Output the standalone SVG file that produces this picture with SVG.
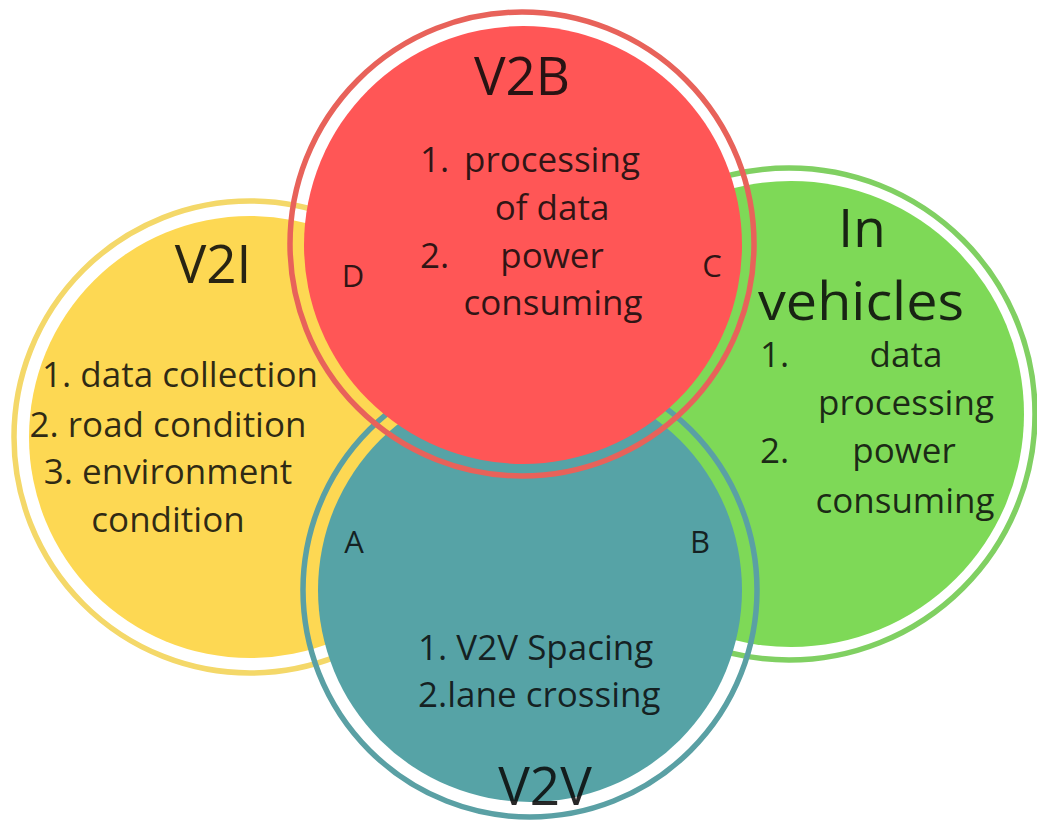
<svg xmlns="http://www.w3.org/2000/svg" width="1037" height="823" viewBox="0 0 1037 823">
  <style>
    .ring { fill: none; stroke-width: 5.5; }
    .title { font-family: "Open Sans", "Liberation Sans", sans-serif; font-size: 53px; fill: #0a0a0a; fill-opacity: 0.88; }
    .body { font-family: "Open Sans", "Liberation Sans", sans-serif; font-size: 35px; fill: #0a0a0a; fill-opacity: 0.85; }
    .mark { font-family: "Open Sans", "Liberation Sans", sans-serif; font-size: 31px; fill: #0a0a0a; fill-opacity: 0.85; }
    .mid { text-anchor: middle; }
  </style>
  <rect width="1037" height="823" fill="#ffffff"/>

  <!-- V2I -->
  <g id="v2i">
    <circle class="ring" cx="250" cy="437" r="236" stroke="#F4D869"/>
    <circle cx="250" cy="437" r="221" fill="#FDD853"/>
    <text class="title mid" x="213" y="283">V2I</text>
    <text class="body mid" x="180" y="387">1. data collection</text>
    <text class="body mid" x="168" y="437">2. road condition</text>
    <text class="body mid" x="168" y="484">3. environment</text>
    <text class="body mid" x="168" y="532">condition</text>
  </g>

  <!-- In vehicles -->
  <g id="in-vehicles">
    <circle class="ring" cx="789" cy="414" r="246" stroke="#80D062"/>
    <circle cx="791" cy="414" r="233" fill="#7ED957"/>
    <text class="title mid" x="862" y="247">In</text>
    <text class="title mid" x="861" y="320" textLength="206" lengthAdjust="spacingAndGlyphs">vehicles</text>
    <text class="body" x="760" y="367">1.</text>
    <text class="body mid" x="906" y="367">data</text>
    <text class="body mid" x="906" y="415">processing</text>
    <text class="body" x="760" y="463">2.</text>
    <text class="body mid" x="904" y="463">power</text>
    <text class="body mid" x="905" y="513">consuming</text>
  </g>

  <!-- V2V -->
  <g id="v2v">
    <circle class="ring" cx="530" cy="590" r="227" stroke="#5AA0A4"/>
    <circle cx="530" cy="590" r="212" fill="#56A3A6"/>
    <text class="mark mid" x="354" y="553">A</text>
    <text class="mark mid" x="700" y="553">B</text>
    <text class="body" x="418" y="660">1. V2V Spacing</text>
    <text class="body" x="418" y="707">2.lane crossing</text>
    <text class="title mid" x="545" y="805">V2V</text>
  </g>

  <!-- V2B -->
  <g id="v2b">
    <circle class="ring" cx="522" cy="244" r="232" stroke="#E8625A"/>
    <circle cx="523" cy="245" r="219" fill="#FF5656"/>
    <text class="title mid" x="522" y="95">V2B</text>
    <text class="body" x="420" y="172">1.</text>
    <text class="body mid" x="552" y="172">processing</text>
    <text class="body mid" x="552" y="220">of data</text>
    <text class="body" x="420" y="268">2.</text>
    <text class="body mid" x="552" y="268">power</text>
    <text class="body mid" x="553" y="315">consuming</text>
    <text class="mark mid" x="353" y="287">D</text>
    <text class="mark mid" x="712" y="277">C</text>
  </g>

  <!-- no connectors in this diagram -->
  <g id="connectors"/>
</svg>
